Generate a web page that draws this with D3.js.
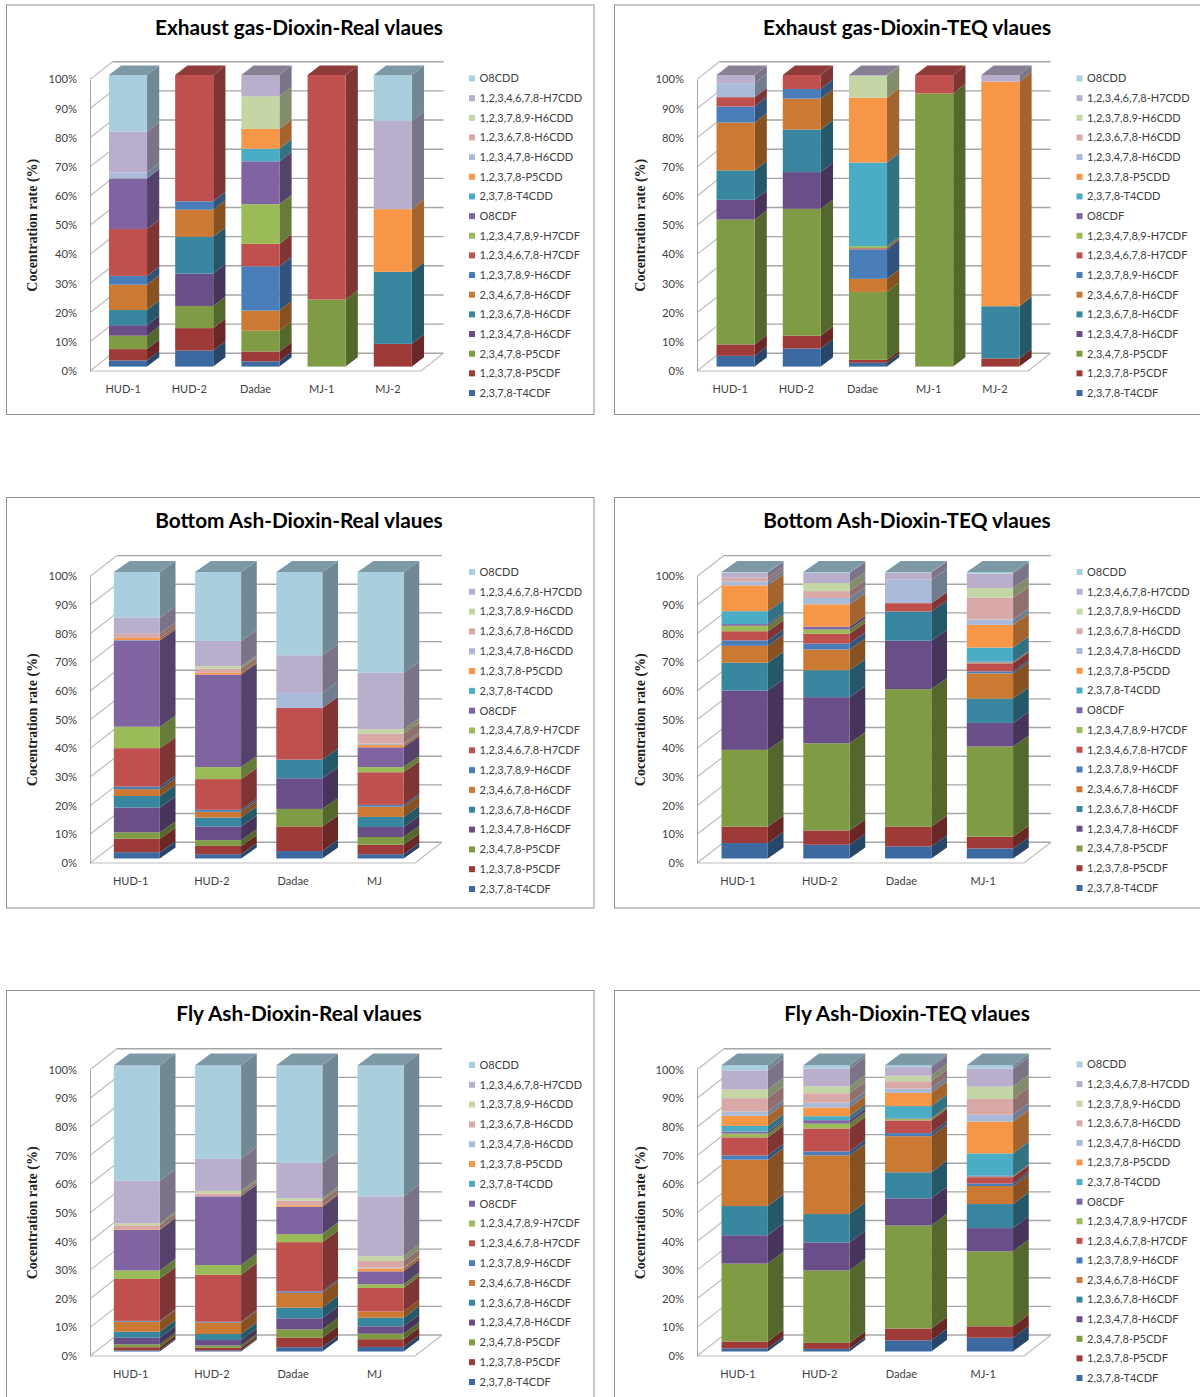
<!DOCTYPE html>
<html>
<head>
<meta charset="utf-8">
<script src="https://cdn.jsdelivr.net/npm/d3@7"></script>
<style>
  html, body { margin: 0; padding: 0; background: #fff; }
  svg { display: block; }
  text { font-family: Lato, "Open Sans", sans-serif; fill: #404040; }
</style>
</head>
<body>
<div id="charts"></div>
<script>
// bottom to top of each bar, same order as colors
var congeners = [
  "2,3,7,8-T4CDF", "1,2,3,7,8-P5CDF", "2,3,4,7,8-P5CDF", "1,2,3,4,7,8-H6CDF",
  "1,2,3,6,7,8-H6CDF", "2,3,4,6,7,8-H6CDF", "1,2,3,7,8,9-H6CDF", "1,2,3,4,6,7,8-H7CDF",
  "1,2,3,4,7,8,9-H7CDF", "O8CDF", "2,3,7,8-T4CDD", "1,2,3,7,8-P5CDD",
  "1,2,3,4,7,8-H6CDD", "1,2,3,6,7,8-H6CDD", "1,2,3,7,8,9-H6CDD", "1,2,3,4,6,7,8-H7CDD", "O8CDD"
];
var colors = [
  "#3c6aa0", "#9e3b38", "#7f9c45", "#6a4e88", "#38869f", "#cc7a33", "#4a7ebb", "#c0504d",
  "#9bbb59", "#8064a2", "#4bacc6", "#f79646", "#a9bbd8", "#d9a9a8", "#c4d5a6", "#b9aecb", "#a9cfdf"
];

var sitesFive = ["HUD-1", "HUD-2", "Dadae", "MJ-1", "MJ-2"];
var sitesMj = ["HUD-1", "HUD-2", "Dadae", "MJ"];
var sitesMj1 = ["HUD-1", "HUD-2", "Dadae", "MJ-1"];

var exhaustReal = [
  [2.1, 3.9, 4.6, 3.6, 5.2, 8.7, 3.0, 16.1, 0, 17.3, 0, 0, 2.1, 0, 0, 14.0, 19.4],
  [5.5, 7.7, 7.6, 11.1, 12.6, 9.3, 2.9, 43.3, 0, 0, 0, 0, 0, 0, 0, 0, 0],
  [1.8, 3.4, 7.1, 0, 0, 6.9, 15.2, 7.7, 13.6, 14.7, 4.3, 6.8, 0, 0, 11.2, 7.3, 0],
  [0, 0, 23, 0, 0, 0, 0, 77, 0, 0, 0, 0, 0, 0, 0, 0, 0],
  [0, 7.8, 0, 0, 24.7, 0, 0, 0, 0, 0, 0, 21.5, 0, 0, 0, 30.3, 15.7]
];
var exhaustTeq = [
  [3.7, 3.9, 42.8, 6.8, 10.1, 16.4, 5.5, 3.2, 0, 0, 0, 0, 4.8, 0, 0, 2.8, 0],
  [6.2, 4.4, 43.5, 12.6, 14.6, 10.6, 3.3, 4.8, 0, 0, 0, 0, 0, 0, 0, 0, 0],
  [1.3, 1.0, 23.3, 0, 0, 4.5, 10.1, 0.4, 0.7, 0, 28.7, 22.2, 0, 0, 7.5, 0.3, 0],
  [0, 0, 93.7, 0, 0, 0, 0, 6.3, 0, 0, 0, 0, 0, 0, 0, 0, 0],
  [0, 2.8, 0, 0, 17.9, 0, 0, 0, 0, 0, 0, 77, 0, 0, 0, 2.3, 0]
];
var bottomReal = [
  [2.2, 4.7, 2.2, 8.7, 4.0, 2.4, 0.9, 13.4, 7.5, 30.1, 0.1, 0.8, 0, 1.4, 0, 5.7, 15.9],
  [1.5, 2.9, 2.0, 4.8, 3.1, 2.0, 0.7, 10.7, 4.2, 32.3, 0, 0.6, 0, 1.5, 0.8, 8.8, 24.1],
  [2.6, 8.6, 6.1, 10.7, 6.5, 0, 0, 18, 0, 0, 0, 0, 5.3, 0, 0, 13.1, 29.1],
  [1.5, 3.3, 2.7, 3.5, 3.5, 3.6, 0.6, 11.4, 1.8, 6.9, 0, 0.8, 0.5, 3.5, 1.5, 19.7, 35.2]
];
var bottomTeq = [
  [5.4, 5.7, 26.8, 20.7, 9.7, 5.9, 1.9, 3.2, 1.9, 0.6, 4.5, 9.0, 1.4, 1.3, 0, 1.8, 0.2],
  [4.8, 5.0, 30.4, 16.1, 9.4, 7.2, 2.1, 3.4, 1.5, 1.0, 0, 7.8, 2.2, 2.4, 2.8, 3.5, 0.4],
  [4.2, 6.9, 48, 16.9, 10.2, 0, 0, 2.9, 0, 0, 0, 0, 8.2, 0, 0, 2.5, 0.2],
  [3.5, 4.1, 31.5, 8.2, 8.5, 8.8, 0.7, 2.8, 0.3, 0.3, 4.9, 7.9, 1.9, 7.6, 3.4, 5.0, 0.6]
];
var flyReal = [
  [0.4, 1.1, 1.0, 2.3, 2.1, 3.5, 0.3, 14.7, 2.9, 14.2, 0, 0.2, 0, 1.4, 0.7, 14.8, 40.4],
  [0.4, 0.9, 0.8, 1.9, 2.1, 4.0, 0.3, 16.4, 3.4, 24.0, 0, 0, 0, 1.0, 0.9, 11.2, 32.7],
  [1.5, 3.3, 2.9, 3.9, 3.7, 5.2, 0.5, 17.2, 2.8, 9.6, 0, 0.5, 0, 1.6, 0.8, 12.4, 34.1],
  [1.6, 2.7, 1.9, 2.6, 3.0, 2.2, 0, 8.2, 1.3, 4.5, 0, 1.0, 0.3, 2.3, 1.7, 20.9, 45.8]
];
var flyTeq = [
  [1.1, 2.4, 27.2, 9.9, 10.2, 16.2, 1.5, 6.3, 1.3, 0.7, 2.0, 3.5, 1.5, 4.7, 3.0, 6.7, 1.8],
  [0.9, 2.1, 25.3, 9.8, 9.9, 20.5, 1.4, 8.0, 1.7, 1.2, 1.4, 3.0, 1.7, 3.3, 2.4, 6.2, 1.2],
  [3.9, 4.1, 36, 9.5, 9.1, 12.6, 1.1, 4.4, 0.6, 0.2, 4.2, 4.6, 1.5, 2.6, 1.9, 3.0, 0.7],
  [4.8, 4.0, 26.2, 8.1, 8.4, 6.3, 0.9, 2.2, 0.2, 0.3, 7.8, 11.1, 2.4, 5.5, 4.3, 6.3, 1.2]
];

var svg = d3.select("#charts").append("svg")
  .attr("width", 1200)
  .attr("height", 1397);

var gasLayout = { boxTop: 5, boxH: 409.5, y0: 371, y100: 79.4, wall: [22.5, -17.7], depth: [12.2, -9.4], lift: 4.4, shift: 5.5, pad: 0.425 };
var bottomLayout = { boxTop: 497.5, boxH: 410.5, y0: 863, y100: 576.4, wall: [27, -20.8], depth: [15.7, -11], lift: 4.5, shift: 6.8, pad: 0.434 };
var flyLayout = { boxTop: 990.5, boxH: 440, y0: 1356, y100: 1069.7, wall: [27, -21], depth: [15.7, -11.7], lift: 4.5, shift: 6.8, pad: 0.434 };

var leftCol = { boxX: 6.5, boxW: 587.5, plotLeft: 90, titleX: 299, yTitleX: 37, swatchX: 469, nudge: -0.6 };
var rightCol = { boxX: 614.5, boxW: 640, plotLeft: 697, titleX: 907, yTitleX: 645, swatchX: 1076.5, nudge: 0 };

drawPanel("Exhaust gas-Dioxin-Real vlaues", sitesFive, exhaustReal, gasLayout, leftCol, 421, [78.5, 393]);
drawPanel("Exhaust gas-Dioxin-TEQ vlaues", sitesFive, exhaustTeq, gasLayout, rightCol, 1028, [78.5, 393]);
drawPanel("Bottom Ash-Dioxin-Real vlaues", sitesMj, bottomReal, bottomLayout, leftCol, 415, [572, 889]);
drawPanel("Bottom Ash-Dioxin-TEQ vlaues", sitesMj1, bottomTeq, bottomLayout, rightCol, 1024, [572, 888]);
drawPanel("Fly Ash-Dioxin-Real vlaues", sitesMj, flyReal, flyLayout, leftCol, 415, [1065, 1382]);
drawPanel("Fly Ash-Dioxin-TEQ vlaues", sitesMj1, flyTeq, flyLayout, rightCol, 1024, [1064.5, 1378]);

function drawPanel(title, sites, rows, lay, col, plotRight, legendRange) {
  var g = svg.append("g");

  g.append("rect")
    .attr("x", col.boxX).attr("y", lay.boxTop)
    .attr("width", col.boxW).attr("height", lay.boxH)
    .attr("fill", "#fff").attr("stroke", "#8f8f8f");

  g.append("text")
    .attr("x", col.titleX).attr("y", lay.boxTop + 30)
    .attr("text-anchor", "middle")
    .style("font-size", "20.8px").style("font-weight", 700).style("fill", "#000")
    .text(title);

  var xScale = d3.scaleBand()
    .domain(sites)
    .range([col.plotLeft, plotRight])
    .paddingInner(lay.pad)
    .paddingOuter(lay.pad / 2);

  var yScale = d3.scaleLinear()
    .domain([0, 1])
    .range([lay.y0, lay.y100]);

  // back wall, left wall and floor
  var wdx = lay.wall[0], wdy = lay.wall[1];
  var grid = g.append("g").attr("stroke", "#a6a6a6").attr("fill", "none");
  yScale.ticks(10).forEach(function(t) {
    grid.append("line")
      .attr("x1", col.plotLeft + wdx).attr("y1", yScale(t) + wdy)
      .attr("x2", plotRight + wdx).attr("y2", yScale(t) + wdy)
      .attr("stroke-width", 1.4);
    grid.append("line")
      .attr("x1", col.plotLeft).attr("y1", yScale(t))
      .attr("x2", col.plotLeft + wdx).attr("y2", yScale(t) + wdy)
      .attr("stroke", "#bdbdbd").attr("stroke-width", 1.2);
  });
  grid.append("polyline")
    .attr("points", [
      [col.plotLeft, lay.y0],
      [plotRight, lay.y0],
      [plotRight + wdx, lay.y0 + wdy]
    ].join(" "))
    .attr("stroke", "#bdbdbd").attr("stroke-width", 1.2);

  var yAxis = d3.axisLeft(yScale)
    .ticks(10)
    .tickFormat(d3.format(".0%"))
    .tickSize(0)
    .tickPadding(13);
  var yAxisG = g.append("g")
    .attr("transform", "translate(" + col.plotLeft + ",0)")
    .call(yAxis);
  yAxisG.select(".domain").attr("stroke", "#a6a6a6");
  yAxisG.selectAll("text").style("font-size", "11.2px").attr("fill", "#404040");

  var xAxis = d3.axisBottom(xScale).tickSize(0).tickPadding(14);
  var xAxisG = g.append("g")
    .attr("transform", "translate(0," + lay.y0 + ")")
    .call(xAxis);
  xAxisG.select(".domain").remove();
  xAxisG.selectAll("text").style("font-size", "11px").attr("fill", "#404040");

  g.append("text")
    .attr("transform", "translate(" + col.yTitleX + "," + (lay.y0 + lay.y100) / 2 + ") rotate(-90)")
    .attr("text-anchor", "middle")
    .style("font-family", "'Liberation Serif', serif")
    .style("font-size", "14px").style("font-weight", 700).style("fill", "#222")
    .text("Cocentration rate (%)");

  // 100% stack over the congeners
  var stacked = d3.stack()
    .keys(d3.range(congeners.length))
    .value(function(row, k) { return row[k]; })
    .offset(d3.stackOffsetExpand)(rows);

  var bw = xScale.bandwidth();
  var ddx = lay.depth[0], ddy = lay.depth[1];

  sites.forEach(function(site, i) {
    var x0 = xScale(site) + lay.shift + col.nudge;
    var bar = g.append("g");
    var topIdx = 0;

    stacked.forEach(function(layer, k) {
      if (rows[i][k] <= 0) return;
      topIdx = k;
      var yLow = yScale(layer[i][0]) - lay.lift;
      var yHigh = yScale(layer[i][1]) - lay.lift;
      bar.append("polygon")
        .attr("points", [
          [x0 + bw, yLow], [x0 + bw + ddx, yLow + ddy],
          [x0 + bw + ddx, yHigh + ddy], [x0 + bw, yHigh]
        ].join(" "))
        .attr("fill", d3.rgb(colors[k]).darker(1.15));
      bar.append("rect")
        .attr("x", x0).attr("y", yHigh)
        .attr("width", bw).attr("height", yLow - yHigh)
        .attr("fill", colors[k]);
    });

    var yTop = yScale(1) - lay.lift;
    bar.append("polygon")
      .attr("points", [
        [x0, yTop], [x0 + bw, yTop],
        [x0 + bw + ddx, yTop + ddy], [x0 + ddx, yTop + ddy]
      ].join(" "))
      .attr("fill", d3.rgb(colors[topIdx]).darker(0.85));
  });

  // legend reads top down, so it is the stack order reversed
  var legendNames = congeners.slice().reverse();
  var legendY = d3.scalePoint()
    .domain(legendNames)
    .range(legendRange);
  var legend = g.append("g");
  legendNames.forEach(function(name) {
    var k = congeners.indexOf(name);
    legend.append("rect")
      .attr("x", col.swatchX).attr("y", legendY(name) - 3)
      .attr("width", 6).attr("height", 6)
      .attr("fill", colors[k]);
    legend.append("text")
      .attr("x", col.swatchX + 10.5).attr("y", legendY(name))
      .attr("dy", "0.35em")
      .style("font-size", "11px")
      .text(name);
  });
}
</script>
</body>
</html>
